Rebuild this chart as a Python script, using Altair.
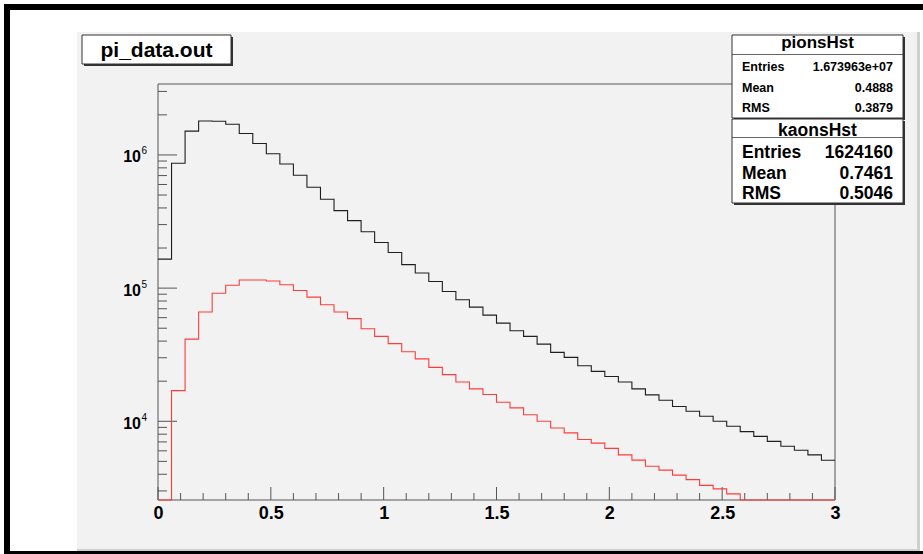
import altair as alt
import pandas as pd

FONT = "Liberation Sans"

# ---------------- data ----------------
BIN_WIDTH = 0.06
N_BINS = 50
X_MAX = 3.0
bin_lo = [round(i * BIN_WIDTH, 2) for i in range(N_BINS)]

pions = [1.65e5, 8.66e5, 1.51e6, 1.80e6, 1.79e6, 1.70e6, 1.45e6, 1.22e6, 1.02e6, 8.56e5,
         7.04e5, 5.72e5, 4.65e5, 3.82e5, 3.21e5, 2.65e5, 2.20e5, 1.85e5, 1.50e5, 1.30e5,
         1.12e5, 9.44e4, 8.17e4, 7.20e4, 6.27e4, 5.46e4, 4.78e4, 4.34e4, 3.80e4, 3.29e4,
         3.02e4, 2.61e4, 2.37e4, 2.17e4, 1.97e4, 1.75e4, 1.58e4, 1.44e4, 1.29e4, 1.19e4,
         1.09e4, 1.00e4, 9.17e3, 8.36e3, 7.71e3, 7.07e3, 6.49e3, 6.06e3, 5.59e3, 5.10e3]

kaons = [0, 1.70e4, 4.14e4, 6.61e4, 9.15e4, 1.05e5, 1.15e5, 1.15e5, 1.13e5, 1.06e5,
         9.6e4, 8.56e4, 7.50e4, 6.61e4, 5.90e4, 4.95e4, 4.34e4, 3.83e4, 3.33e4, 2.94e4,
         2.54e4, 2.24e4, 1.97e4, 1.75e4, 1.59e4, 1.39e4, 1.26e4, 1.12e4, 1.00e4, 8.91e3,
         8.18e3, 7.29e3, 6.85e3, 6.26e3, 5.59e3, 5.11e3, 4.60e3, 4.30e3, 3.94e3, 3.65e3,
         3.30e3, 3.11e3, 2.85e3, 0, 0, 0, 0, 0, 0, 0]

series_names = ["pionsHst", "kaonsHst"]
series_colors = ["#1e1e1e", "#ff3c3c"]

Y_MIN, Y_MAX = 2564, 3.41e6

x_major = [0, 0.5, 1, 1.5, 2, 2.5, 3]
x_minor = [0.1, 0.2, 0.3, 0.4, 0.6, 0.7, 0.8, 0.9, 1.1, 1.2, 1.3, 1.4, 1.6, 1.7, 1.8, 1.9,
           2.1, 2.2, 2.3, 2.4, 2.6, 2.7, 2.8, 2.9]
y_major = [1e4, 1e5, 1e6]
y_major_exp = ["4", "5", "6"]
y_minor = [3e3, 4e3, 5e3, 6e3, 7e3, 8e3, 9e3,
           2e4, 3e4, 4e4, 5e4, 6e4, 7e4, 8e4, 9e4,
           2e5, 3e5, 4e5, 5e5, 6e5, 7e5, 8e5, 9e5,
           2e6, 3e6]

title_text = "pi_data.out"
stat_labels = ["Entries", "Mean", "RMS"]
pion_stats = ["1.673963e+07", "0.4888", "0.3879"]
kaon_stats = ["1624160", "0.7461", "0.5046"]

# ---------------- layout ----------------
W, H = 677, 416
OX, OY = 158, 84  # plot origin in page pixels


def X(px):
    return px - OX


def Y(py):
    return py - OY


# ---------------- tables ----------------
rows = []
for name, vals in zip(series_names, [pions, kaons]):
    for x0, v in zip(bin_lo + [X_MAX], vals + [vals[-1]]):
        rows.append({"series": name, "x": x0, "count": v})
hist_df = pd.DataFrame(rows)

ONE = pd.DataFrame({"k": [0]})

xs = alt.Scale(domain=[0, X_MAX], nice=False, zero=False)
ys = alt.Scale(type="log", domain=[Y_MIN, Y_MAX], nice=False)

X_AXIS = alt.Axis(
    values=x_major, format="~g", ticks=False, tickSize=0, domain=False, grid=False,
    labelFont=FONT, labelFontSize=18, labelFontWeight="bold", labelColor="#000",
    labelPadding=4, labelBaseline="top", labelFlush=False, title=None, zindex=2)


def rect(x1, x2, y1, y2, fill="transparent", stroke=None, sw=1):
    kw = dict(fill=fill)
    if stroke:
        kw.update(stroke=stroke, strokeWidth=sw)
    else:
        kw.update(strokeWidth=0)
    return alt.Chart(ONE).mark_rect(**kw).encode(
        x=alt.value(X(x1)), x2=alt.value(X(x2)), y=alt.value(Y(y1)), y2=alt.value(Y(y2)))


def txt(s, px, py, size, align="left", weight="bold"):
    return alt.Chart(ONE).mark_text(
        text=s, align=align, baseline="alphabetic", font=FONT, fontSize=size,
        fontWeight=weight, color="#000").encode(x=alt.value(X(px)), y=alt.value(Y(py)))


layers = []
# page decoration
layers.append(rect(77, 920, 32, 551, fill="#cfcfcf"))
layers.append(rect(77, 917, 32, 549, fill="#f2f2f2"))
layers.append(rect(4, 923, 4, 10, fill="#000"))
layers.append(rect(4, 10, 4, 554, fill="#000"))
layers.append(rect(4, 923, 551, 554, fill="#000"))

TICK = "#555"
# frame
layers.append(alt.Chart(ONE).mark_rect(fill="transparent", stroke=TICK, strokeWidth=1).encode(
    x=alt.value(0), x2=alt.value(W), y=alt.value(0), y2=alt.value(H)))

# y ticks (inside, left)
layers.append(alt.Chart(pd.DataFrame({"v": y_major})).mark_rule(color=TICK, strokeWidth=1).encode(
    y=alt.Y("v:Q", scale=ys, axis=None), x=alt.value(0), x2=alt.value(19)))
layers.append(alt.Chart(pd.DataFrame({"v": y_minor})).mark_rule(color=TICK, strokeWidth=1).encode(
    y=alt.Y("v:Q", scale=ys, axis=None), x=alt.value(0), x2=alt.value(9)))
# x ticks (inside, bottom)
layers.append(alt.Chart(pd.DataFrame({"v": x_major})).mark_rule(color=TICK, strokeWidth=1).encode(
    x=alt.X("v:Q", scale=xs, axis=X_AXIS), y=alt.value(H), y2=alt.value(H - 13)))
layers.append(alt.Chart(pd.DataFrame({"v": x_minor})).mark_rule(color=TICK, strokeWidth=1).encode(
    x=alt.X("v:Q", scale=xs, axis=X_AXIS), y=alt.value(H), y2=alt.value(H - 7)))

# histograms
hist = alt.Chart(hist_df).transform_calculate(
    yc=f"max(datum.count, {Y_MIN})"
).mark_line(interpolate="step-after", strokeWidth=1.1, clip=False).encode(
    x=alt.X("x:Q", scale=xs, axis=X_AXIS),
    y=alt.Y("yc:Q", scale=ys, axis=None),
    color=alt.Color("series:N", scale=alt.Scale(domain=series_names, range=series_colors),
                    legend=None),
)
layers.append(hist)

# y labels 10^n
ylab = pd.DataFrame({"v": y_major, "e": y_major_exp})
layers.append(alt.Chart(ylab).mark_text(
    text="10", align="right", baseline="alphabetic", dy=7.5, font=FONT, fontSize=16,
    fontWeight="bold", color="#000").encode(
    y=alt.Y("v:Q", scale=ys, axis=None), x=alt.value(X(141))))
layers.append(alt.Chart(ylab).mark_text(
    align="left", baseline="alphabetic", dy=-0.5, font=FONT, fontSize=10,
    color="#000").encode(
    y=alt.Y("v:Q", scale=ys, axis=None), x=alt.value(X(141.5)), text="e:N"))

# title box
layers.append(rect(84, 233, 37, 66, fill="#333"))
layers.append(rect(82, 231, 35, 64, fill="#fff", stroke="#333", sw=1))
layers.append(txt(title_text, 156.5, 57, 21, align="center"))

# pions stat box
layers.append(rect(734, 905, 37, 120, fill="#333"))
layers.append(rect(732, 903, 35, 118, fill="#fff", stroke="#333", sw=1))
layers.append(rect(732, 903, 54, 54.8, fill="#333"))
layers.append(txt(series_names[0], 817.5, 48, 17, align="center"))
for lab, val, by in zip(stat_labels, pion_stats, [70.5, 91.5, 112.3]):
    layers.append(txt(lab, 742, by, 12.5))
    layers.append(txt(val, 893, by, 12.5, align="right"))

# kaons stat box
layers.append(rect(734, 905, 121, 205, fill="#333"))
layers.append(rect(732, 903, 119, 203, fill="#fff", stroke="#333", sw=1))
layers.append(rect(732, 903, 137, 137.8, fill="#333"))
layers.append(txt(series_names[1], 817.5, 136, 17.5, align="center"))
for lab, val, by in zip(stat_labels, kaon_stats, [157.5, 178.5, 199.3]):
    layers.append(txt(lab, 742, by, 17.5))
    layers.append(txt(val, 893, by, 17.5, align="right"))

chart = alt.layer(*layers).properties(
    width=W, height=H,
    autosize=alt.AutoSizeParams(type="none"),
    padding={"left": OX, "top": OY, "right": 923 - OX - W, "bottom": 554 - OY - H},
    background="#ffffff",
).configure_view(strokeWidth=0)

chart.save("out.html", embed_options={"renderer": "svg", "actions": False})
